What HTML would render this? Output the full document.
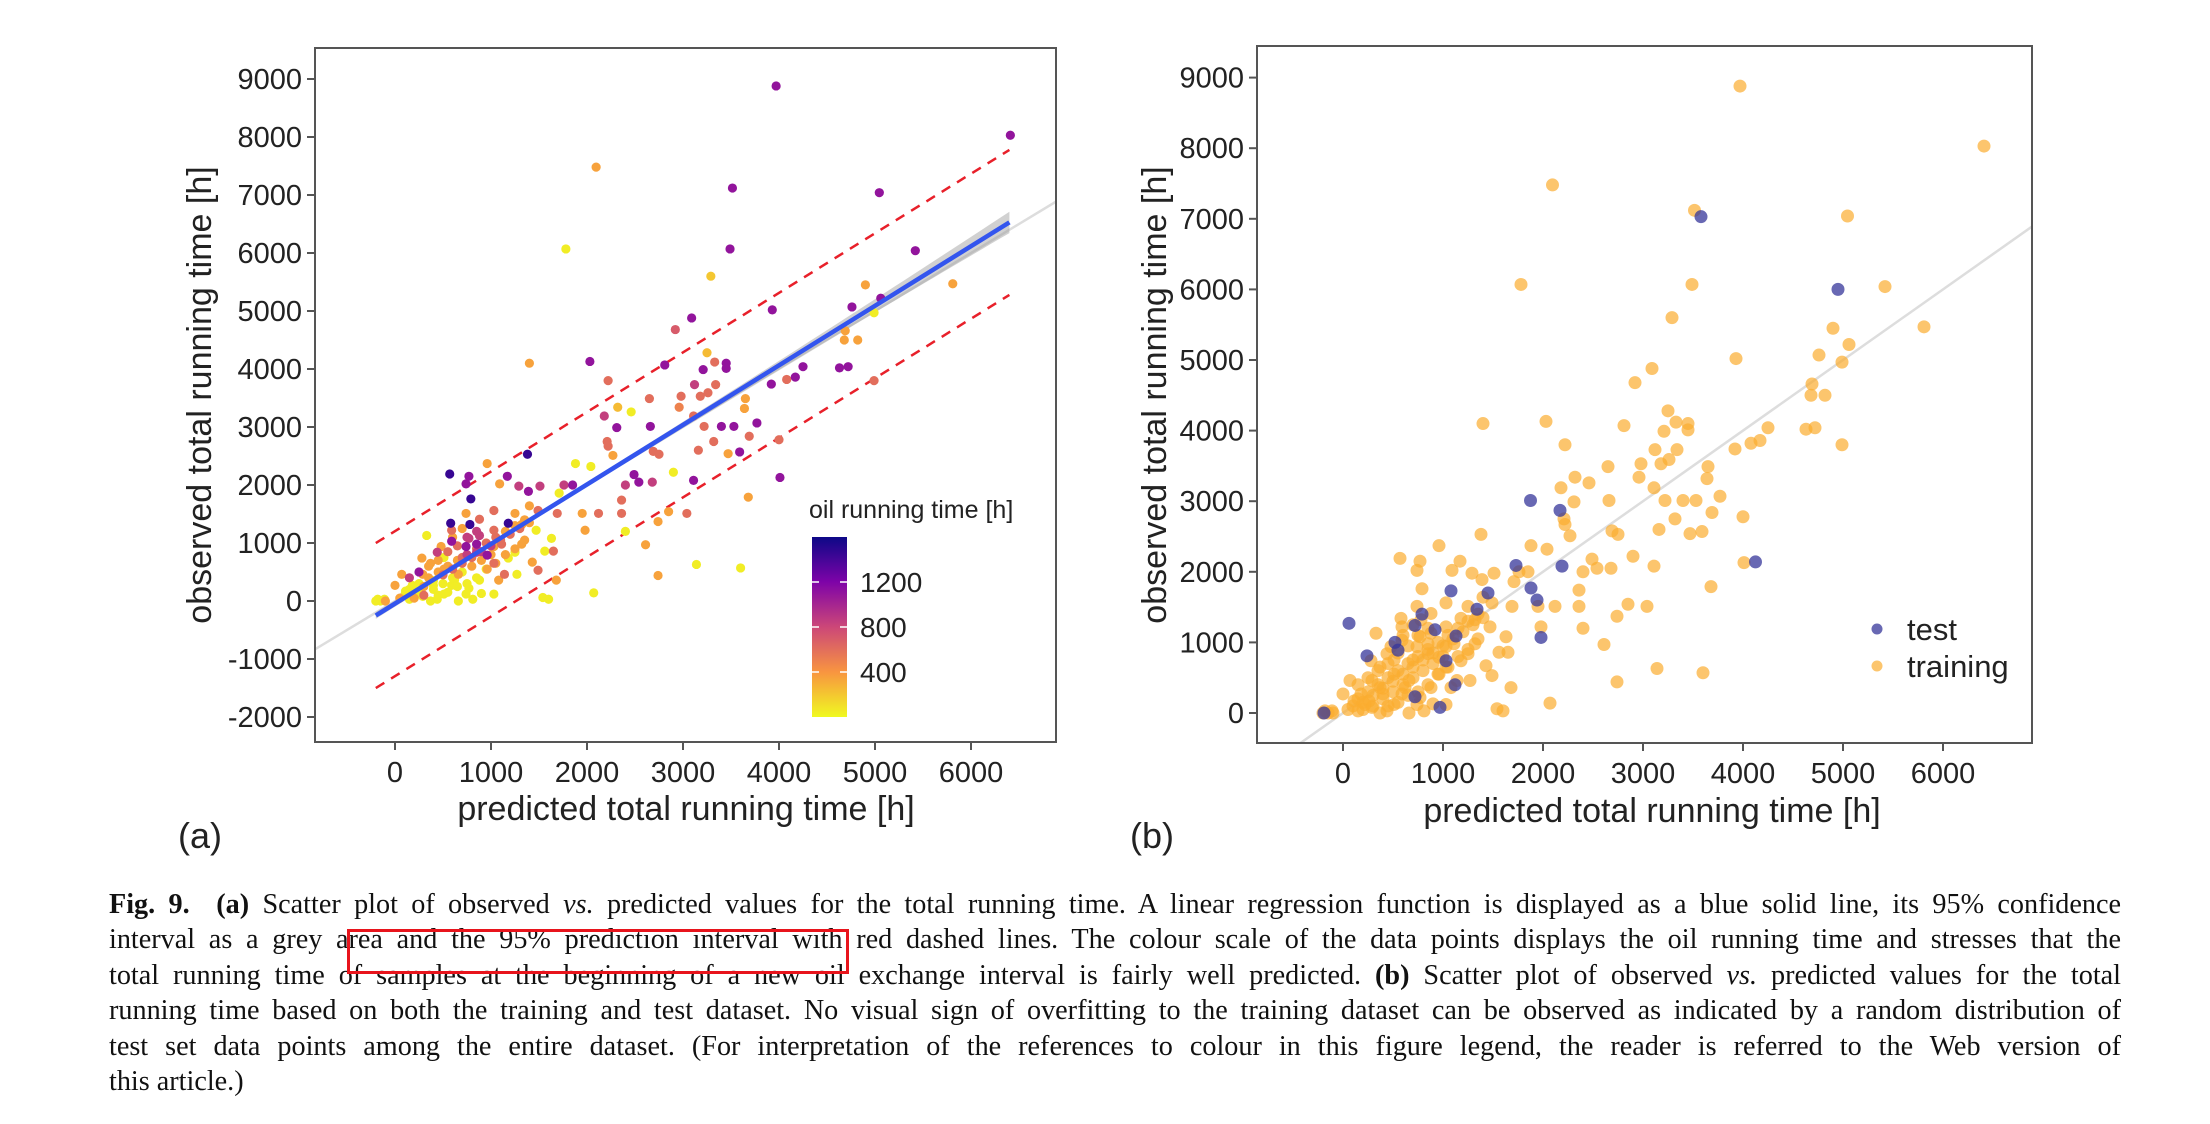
<!DOCTYPE html>
<html><head><meta charset="utf-8">
<style>
html,body{margin:0;padding:0;background:#fff;}
body{width:2210px;height:1124px;position:relative;overflow:hidden;font-family:"Liberation Sans",sans-serif;}
#chart{position:absolute;left:0;top:0;}
#caption{position:absolute;left:109px;top:887px;width:2012px;font-family:"Liberation Serif",serif;font-size:28.2px;color:#111;}
#caption .ln{height:35.4px;line-height:35.4px;text-align:justify;text-align-last:justify;white-space:nowrap;}
#caption .ln.last{text-align-last:left;}
#redbox{position:absolute;left:347px;top:929px;width:496px;height:39px;border:3px solid #e8141c;}
</style></head>
<body>
<svg id="chart" width="2210" height="880" viewBox="0 0 2210 880" xmlns="http://www.w3.org/2000/svg">
<defs>
<clipPath id="clipA"><rect x="315" y="48" width="741" height="694"/></clipPath>
<clipPath id="clipB"><rect x="1257" y="46" width="775" height="697"/></clipPath>
<linearGradient id="cbar" x1="0" y1="1" x2="0" y2="0">
<stop offset="0" stop-color="#f0f921"/><stop offset="0.25" stop-color="#f89540"/>
<stop offset="0.5" stop-color="#cc4778"/><stop offset="0.75" stop-color="#7e03a8"/>
<stop offset="1" stop-color="#0d0887"/></linearGradient>
</defs>
<g id="gA"></g><g id="gB"></g>
</svg>
<div id="caption">
<div class="ln"><b>Fig. 9.</b>&nbsp; <b>(a)</b> Scatter plot of observed <i>vs.</i> predicted values for the total running time. A linear regression function is displayed as a blue solid line, its 95% confidence</div>
<div class="ln">interval as a grey area and the 95% prediction interval with red dashed lines. The colour scale of the data points displays the oil running time and stresses that the</div>
<div class="ln">total running time of samples at the beginning of a new oil exchange interval is fairly well predicted. <b>(b)</b> Scatter plot of observed <i>vs.</i> predicted values for the total</div>
<div class="ln">running time based on both the training and test dataset. No visual sign of overfitting to the training dataset can be observed as indicated by a random distribution of</div>
<div class="ln">test set data points among the entire dataset. (For interpretation of the references to colour in this figure legend, the reader is referred to the Web version of</div>
<div class="ln last">this article.)</div>
</div>
<div id="redbox"></div>
<script>
// predicted values (training / panel a)
const predicted = [3970,6410,2095,3515,5045,1780,3490,5420,3290,4900,5810,5060,4760,3930,4990,3090,2920,4690,4680,4820,3250,1400,2030,3330,3450,2810,3450,4630,4720,4250,3210,4170,4080,4990,2220,3920,3120,3340,2980,3180,3260,2650,3650,2320,2960,3640,2460,2180,3110,2660,2310,3220,3400,3530,3770,2210,2220,3320,3690,4000,2690,2750,3160,3470,3590,1380,2270,2900,4010,2490,2040,2400,2540,2680,3110,3680,2360,1950,2120,2360,3040,2850,2740,1980,2400,2610,3140,3600,2740,2070,570,770,740,790,1170,1090,960,1290,1510,1390,1760,1850,1710,1880,580,780,1180,1490,1400,1690,1630,1650,1680,1540,1600,1490,1270,1430,1250,1080,900,0,70,280,330,440,590,740,880,1030,700,510,370,590,220,-180,-110,440,290,1030,1140,960,880,660,1180,850,1030,1320,1250,1030,880,740,590,480,370,290,180,110,740,510,1030,510,770,850,960,1110,1320,1470,1560,150,660,810,370,260,400,620,770,
100,150,200,250,300,350,400,450,500,550,600,650,700,750,800,850,900,950,1000,1050,1100,1150,1200,1250,1300,1350,1400,200,300,400,500,600,700,800,900,1000,350,450,550,650,750,850,250,150,50,-100,-150,-200,450,550,650,750,850,950,1050,1150,1250,1350,600,700];
// observed values
const observed = [8880,8030,7480,7120,7040,6070,6070,6040,5600,5450,5470,5220,5070,5020,4970,4880,4680,4660,4500,4500,4280,4100,4130,4120,4100,4070,4010,4020,4040,4040,3990,3860,3820,3800,3800,3740,3730,3730,3530,3530,3590,3490,3490,3340,3340,3320,3260,3190,3190,3010,2990,3010,3010,3010,3070,2750,2670,2750,2840,2780,2580,2530,2600,2540,2570,2530,2510,2220,2130,2180,2320,2000,2050,2050,2080,1790,1740,1510,1510,1510,1510,1540,1370,1220,1200,970,630,570,440,140,2190,2150,2020,1760,2150,2020,2370,1980,1980,1890,2000,2000,1860,2370,1340,1320,1340,1560,1640,1510,1080,860,360,60,30,530,460,670,840,360,130,270,460,740,1130,840,1030,940,1130,940,750,550,360,270,120,30,30,30,80,650,460,550,360,460,740,840,1220,1320,1510,1560,1410,1510,1220,940,650,460,270,170,120,120,120,750,1080,980,790,980,980,1220,860,30,0,30,0,170,270,360,220,
100,200,150,300,250,400,350,500,450,600,550,700,650,800,750,900,850,1000,950,1100,1050,1200,1150,1300,1250,1400,1350,50,100,200,300,400,500,600,700,800,600,700,850,950,1100,1200,500,400,50,0,0,0,100,150,250,300,400,550,650,800,900,1050,1100,1250];
// oil running time [h]
const oil = [1100,1100,350,1100,1100,50,1100,1100,200,350,350,1100,1100,1100,50,1100,700,350,350,350,250,350,1100,600,1100,1100,1100,1100,1100,1100,1100,1100,600,600,600,1100,850,600,600,600,600,600,350,250,500,350,50,850,600,1100,1100,600,1100,1100,1100,600,600,600,600,600,600,600,600,350,1100,1450,350,50,1100,1100,50,850,1100,850,1100,350,600,350,600,600,600,350,350,350,50,350,50,50,350,50,1450,1100,1100,1450,1100,350,350,850,850,1100,850,1100,50,50,1450,1450,1450,600,350,600,50,600,350,50,50,600,50,350,50,350,50,350,350,350,50,850,1100,1100,850,350,600,350,50,50,50,50,50,50,50,600,600,350,50,350,50,850,600,350,350,600,600,350,600,350,350,350,50,50,50,50,50,50,850,1100,1100,600,350,50,50,50,50,50,50,50,50,50,50,50,50,
50,50,350,350,50,350,600,350,600,350,600,850,600,600,850,600,850,600,600,350,600,350,600,350,350,350,600,50,50,50,50,350,350,350,350,350,600,600,850,850,1100,850,350,350,50,50,50,50,50,50,50,50,350,350,350,350,350,350,600,850];
// test set points (panel b)
const testPred = [3580,4950,1875,2170,4125,1730,2190,1080,1450,1880,1940,1980,60,240,520,790,920,1030,1120,970,720,550,720,-190,1130,1340];
const testObs = [7030,6000,3010,2870,2140,2090,2080,1730,1700,1770,1600,1070,1270,810,1000,1400,1180,740,400,80,230,890,1240,0,1090,1470];
// axis ticks
const xTicks = [0,1000,2000,3000,4000,5000,6000];
const yTicksA = [-2000,-1000,0,1000,2000,3000,4000,5000,6000,7000,8000,9000];
const yTicksB = [0,1000,2000,3000,4000,5000,6000,7000,8000,9000];
const cbTicks = [400,800,1200];
// fit parameters (panel a)
const fitIntercept = -45, fitSlope = 1.027, predHalf = 1250;

const NS="http://www.w3.org/2000/svg";
function mk(parent,tag,attrs,text){const e=document.createElementNS(NS,tag);for(const k in attrs)e.setAttribute(k,attrs[k]);if(text!==undefined)e.textContent=text;parent.appendChild(e);return e;}
const xA=v=>395+v*0.096, yA=v=>601-v*0.058;
const xB=v=>1343+v*0.1, yB=v=>713-v*0.0706;
const stops=[[0,[240,249,33]],[400,[248,149,64]],[800,[204,71,120]],[1200,[126,3,168]],[1600,[13,8,135]]];
function oilColor(o){for(let i=0;i<stops.length-1;i++){const a=stops[i],b=stops[i+1];if(o<=b[0]){const t=Math.max(0,(o-a[0])/(b[0]-a[0]));const c=a[1].map((v,j)=>Math.round(v+(b[1][j]-v)*t));return `rgb(${c})`;}}return 'rgb(13,8,135)';}

function axes(g,X,Y,box,yTicks){
  mk(g,'rect',{x:box[0],y:box[1],width:box[2],height:box[3],fill:'none',stroke:'#555','stroke-width':2});
  xTicks.forEach(t=>{
    const tk=mk(g,'line',{x1:X(t),x2:X(t),y1:box[1]+box[3],y2:box[1]+box[3]+8,stroke:'#555','stroke-width':2});
    
    const l=mk(g,'text',{x:X(t),y:box[1]+box[3]+40,'font-size':29,fill:'#222','text-anchor':'middle'},t);
    
  });
  yTicks.forEach(t=>{
    const tk=mk(g,'line',{x1:box[0]-8,x2:box[0],y1:Y(t),y2:Y(t),stroke:'#555','stroke-width':2});
    
    const l=mk(g,'text',{x:box[0]-13,y:Y(t)+10,'font-size':29,fill:'#222','text-anchor':'end'},t);
    
  });
}

// ---------- Panel A ----------
const gA=document.getElementById('gA');

const pA=mk(gA,'g',{'clip-path':'url(#clipA)'});
mk(pA,'line',{x1:xA(-900),y1:yA(-900),x2:xA(7000),y2:yA(7000),stroke:'#ddd','stroke-width':2.5});
let up=[],dn=[];
for(let v=-200;v<=6400;v+=100){const hw=40+6e-6*(v-1500)*(v-1500);const m=fitIntercept+fitSlope*v;up.push(`${xA(v)},${yA(m+hw)}`);dn.unshift(`${xA(v)},${yA(m-hw)}`);}
const band=mk(pA,'polygon',{points:up.concat(dn).join(' '),fill:'#999','fill-opacity':0.45});

[predHalf,-predHalf].forEach(o=>{
  const l=mk(pA,'line',{x1:xA(-200),y1:yA(fitIntercept-200*fitSlope+o),x2:xA(6400),y2:yA(fitIntercept+6400*fitSlope+o),stroke:'#e8202a','stroke-width':2.5,'stroke-dasharray':'10 8'});
  
});
const order=predicted.map((_,i)=>i).sort((a,b)=>oil[a]-oil[b]);
order.forEach(i=>{
  const c=mk(pA,'circle',{cx:xA(predicted[i]),cy:yA(observed[i]),r:4.6,fill:oilColor(oil[i])});
  
});
const reg=mk(pA,'line',{x1:xA(-200),y1:yA(fitIntercept-200*fitSlope),x2:xA(6400),y2:yA(fitIntercept+6400*fitSlope),stroke:'#3355ee','stroke-width':4.5});

axes(gA,xA,yA,[315,48,741,694],yTicksA);
let t=mk(gA,'text',{x:686,y:820,'font-size':34,fill:'#222','text-anchor':'middle'},'predicted total running time [h]');

t=mk(gA,'text',{x:0,y:0,'font-size':34,fill:'#222','text-anchor':'middle',transform:'translate(211,395) rotate(-90)'},'observed total running time [h]');

t=mk(gA,'text',{x:178,y:848,'font-size':36,fill:'#222'},'(a)');

const cbY=v=>717-v*0.1125;
t=mk(gA,'text',{x:809,y:518,'font-size':25,fill:'#222'},'oil running time [h]');

const cb=mk(gA,'rect',{x:812,y:cbY(1600),width:35,height:cbY(0)-cbY(1600),fill:'url(#cbar)'});

cbTicks.forEach(v=>{
  mk(gA,'line',{x1:812,x2:819,y1:cbY(v),y2:cbY(v),stroke:'#fff','stroke-width':1.5});
  mk(gA,'line',{x1:840,x2:847,y1:cbY(v),y2:cbY(v),stroke:'#fff','stroke-width':1.5});
  const l=mk(gA,'text',{x:860,y:cbY(v)+10,'font-size':28,fill:'#222'},v);
  
});

// ---------- Panel B ----------
const gB=document.getElementById('gB');

const pB=mk(gB,'g',{'clip-path':'url(#clipB)'});
mk(pB,'line',{x1:xB(-900),y1:yB(-900),x2:xB(7000),y2:yB(7000),stroke:'#ddd','stroke-width':2.5});
predicted.forEach((p,i)=>{
  const c=mk(pB,'circle',{cx:xB(p),cy:yB(observed[i]),r:6.5,fill:'#fbad2f','fill-opacity':0.7});
  
});
testPred.forEach((p,i)=>{
  const c=mk(pB,'circle',{cx:xB(p),cy:yB(testObs[i]),r:6.5,fill:'#35359a','fill-opacity':0.75});
  
});
axes(gB,xB,yB,[1257,46,775,697],yTicksB);
t=mk(gB,'text',{x:1652,y:822,'font-size':34,fill:'#222','text-anchor':'middle'},'predicted total running time [h]');

t=mk(gB,'text',{x:0,y:0,'font-size':34,fill:'#222','text-anchor':'middle',transform:'translate(1166,395) rotate(-90)'},'observed total running time [h]');

t=mk(gB,'text',{x:1130,y:848,'font-size':36,fill:'#222'},'(b)');

const leg=mk(gB,'g',{});

mk(leg,'circle',{cx:1877,cy:629,r:5.5,fill:'#35359a','fill-opacity':0.75});
t=mk(leg,'text',{x:1907,y:640,'font-size':31,fill:'#222'},'test');

mk(leg,'circle',{cx:1877,cy:666,r:5.5,fill:'#fbad2f','fill-opacity':0.7});
t=mk(leg,'text',{x:1907,y:677,'font-size':31,fill:'#222'},'training');

</script>
</body></html>
